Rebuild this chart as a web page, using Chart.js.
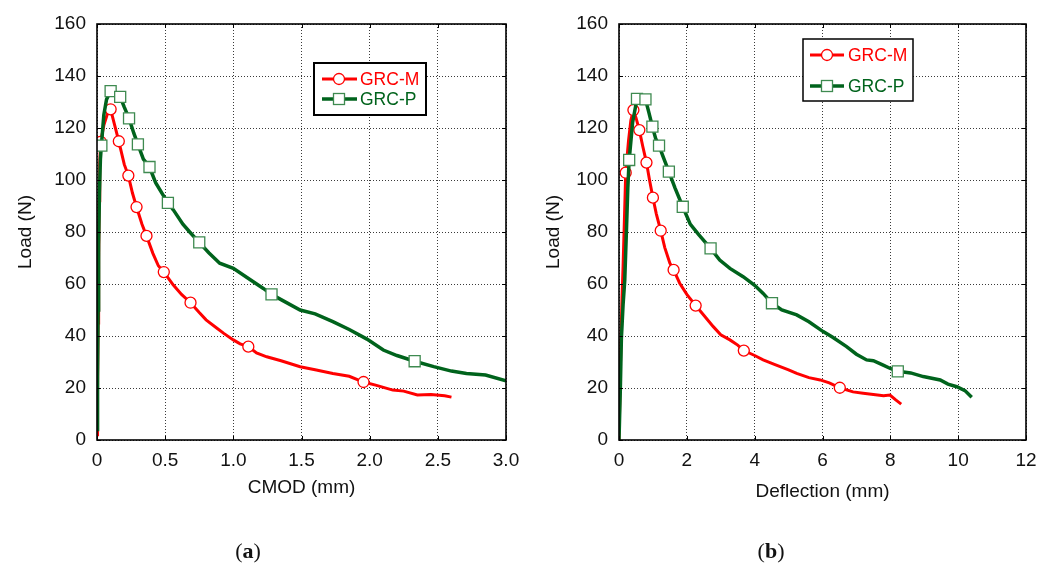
<!DOCTYPE html>
<html><head><meta charset="utf-8">
<script src="https://cdn.jsdelivr.net/npm/chart.js@4/dist/chart.umd.min.js"></script>
<style>
html,body{margin:0;padding:0;background:#fff;width:1062px;height:564px;overflow:hidden}
#wrapA{position:absolute;left:0;top:0;width:530px;height:564px}
#wrapB{position:absolute;left:530px;top:0;width:532px;height:564px}
.cap{position:absolute;top:538px;font-family:'Liberation Serif',serif;font-size:22px;color:#111;transform:translateX(-50%);white-space:nowrap}
</style></head><body>
<div id="wrapA"><canvas id="cA" width="530" height="564"></canvas></div>
<div id="wrapB"><canvas id="cB" width="532" height="564"></canvas></div>
<div class="cap" style="left:248px">(<b>a</b>)</div>
<div class="cap" style="left:771px">(<b>b</b>)</div>
<script>
// ---------- data ----------
const seriesNames = ['GRC-M', 'GRC-P'];
const yTickLabels = ['0','20','40','60','80','100','120','140','160'];
const xTickLabelsA = ['0','0.5','1.0','1.5','2.0','2.5','3.0'];
const xTickLabelsB = ['0','2','4','6','8','10','12'];

// (a) Load vs CMOD
const cmodM = [0,0.004,0.008,0.012,0.016,0.02,0.027,0.05,0.08,0.10,0.13,0.16,0.20,0.23,0.26,0.29,0.33,0.363,0.41,0.45,0.49,0.56,0.62,0.686,0.75,0.80,0.88,0.93,1.0,1.05,1.11,1.17,1.245,1.35,1.49,1.6,1.73,1.85,1.955,2.05,2.17,2.25,2.35,2.45,2.55,2.60];
const loadCmodM = [2,20,45,70,92,106,114.7,121,126,127.2,121,114.9,106,101.7,95,89.6,83,78.5,71.8,67,64.6,59.6,56,52.8,49,46.2,43,41,38.5,37,35.9,33.5,32,30.5,28.2,27,25.6,24.5,22.3,21,19.2,18.8,17.3,17.5,17,16.5];
const cmodMarkM = [0.027,0.10,0.16,0.23,0.29,0.363,0.49,0.686,1.11,1.955];
const loadCmodMarkM = [114.7,127.2,114.9,101.7,89.6,78.5,64.6,52.8,35.9,22.3];

const cmodP = [0,0.004,0.008,0.012,0.018,0.025,0.032,0.05,0.07,0.10,0.13,0.17,0.20,0.235,0.27,0.30,0.34,0.385,0.43,0.485,0.52,0.56,0.63,0.68,0.75,0.82,0.90,1.0,1.10,1.22,1.28,1.35,1.49,1.6,1.73,1.85,1.98,2.10,2.2,2.33,2.47,2.6,2.71,2.85,3.0];
const loadCmodP = [4,25,50,75,95,108,113.2,125,131,134.2,134,132,128,123.7,118,113.7,108,105,99,94.2,91.2,88.5,83,80,76,72,68,66,62.5,58.3,56,54,50,48.5,45.5,42.5,38.8,34.6,32.5,30.3,28.2,26.5,25.6,25,22.8];
const cmodMarkP = [0.032,0.10,0.17,0.235,0.30,0.385,0.52,0.75,1.28,2.33];
const loadCmodMarkP = [113.2,134.2,132,123.7,113.7,105,91.2,76,56,30.3];

// (b) Load vs Deflection
const deflM = [0,0.03,0.06,0.09,0.12,0.16,0.198,0.28,0.35,0.425,0.5,0.60,0.70,0.81,0.9,1.0,1.1,1.23,1.35,1.5,1.61,1.79,2.0,2.26,2.5,2.78,3.0,3.27,3.5,3.68,4.0,4.25,4.6,5.0,5.24,5.6,5.93,6.2,6.51,6.9,7.2,7.5,7.8,7.99,8.15,8.32];
const loadDeflM = [0,20,40,55,66.7,85,102.8,115,123,126.9,124,119.2,113,106.7,100,93.2,87,80.5,74,68,65.4,60.3,56,51.7,48,43.6,40.5,38.5,36.5,34.4,32.5,30.8,29,27,25.6,24,23.1,22,20.1,18.5,18,17.5,17,17.3,15.5,13.8];
const deflMarkM = [0.198,0.425,0.60,0.81,1.0,1.23,1.61,2.26,3.68,6.51];
const loadDeflMarkM = [102.8,126.9,119.2,106.7,93.2,80.5,65.4,51.7,34.4,20.1];

const deflP = [0,0.04,0.07,0.12,0.17,0.22,0.26,0.30,0.4,0.53,0.65,0.78,0.88,0.985,1.08,1.18,1.3,1.47,1.65,1.88,2.1,2.35,2.70,2.97,3.27,3.66,4.0,4.25,4.51,4.8,5.24,5.6,6.02,6.3,6.71,7.0,7.3,7.5,7.79,8.0,8.22,8.6,8.97,9.47,9.7,9.96,10.2,10.4];
const loadDeflP = [0,20,39,52,61.5,80.8,97,107.7,122,131.2,131.5,131.0,126,120.5,116,113.2,109,103.2,97,89.7,83,79,73.7,69.2,66,62.8,59.5,56.4,52.6,50,48.1,45.5,41.7,39.5,35.9,33,30.8,30.5,28.8,27.5,26.4,25.8,24.4,23.1,21.5,20.5,19,16.4];
const deflMarkP = [0.30,0.53,0.78,0.985,1.18,1.47,1.88,2.70,4.51,8.22];
const loadDeflMarkP = [107.7,131.2,131.0,120.5,113.2,103.2,89.7,73.7,52.6,26.4];

// ---------- styles ----------
const RED = '#ff0000';
const GREEN = '#00631c';
const GREEN_MK = '#3e8a50';
const FONT = "'Liberation Sans', Arial, sans-serif";
const TXT = '#111';
const AX_FONT = {family: FONT, size: 19};

const pts = (xs, ys) => xs.map((x, i) => ({x: x, y: ys[i]}));

function lineDs(label, xs, ys, color, width, order) {
  return {label, data: pts(xs, ys), showLine: true, borderColor: color, borderWidth: width,
    pointRadius: 0, pointHoverRadius: 0, fill: false, tension: 0, order};
}
function markDs(label, xs, ys, style, radius, stroke, order) {
  return {label, data: pts(xs, ys), showLine: false, pointStyle: style, pointRadius: radius,
    pointHoverRadius: radius, pointBackgroundColor: '#fff', pointBorderColor: stroke,
    pointBorderWidth: 1.3, order};
}

const framePlugin = {
  id: 'frame',
  afterDatasetsDraw(chart) {
    const {ctx, chartArea: a, scales} = chart;
    ctx.save();
    ctx.strokeStyle = '#000';
    ctx.lineWidth = 1;
    ctx.beginPath();
    scales.x.ticks.forEach(t => {
      const px = Math.round(scales.x.getPixelForValue(t.value)) + 0.5;
      ctx.moveTo(px, a.bottom); ctx.lineTo(px, a.bottom - 4);
      ctx.moveTo(px, a.top); ctx.lineTo(px, a.top + 4);
    });
    scales.y.ticks.forEach(t => {
      const py = Math.round(scales.y.getPixelForValue(t.value)) + 0.5;
      ctx.moveTo(a.left, py); ctx.lineTo(a.left + 4, py);
      ctx.moveTo(a.right, py); ctx.lineTo(a.right - 4, py);
    });
    ctx.stroke();
    ctx.lineWidth = 1.6;
    ctx.strokeRect(a.left, a.top, a.right - a.left, a.bottom - a.top);
    ctx.restore();
  }
};

const boxLegendPlugin = {
  id: 'boxLegend',
  afterDraw(chart, args, o) {
    const ctx = chart.ctx;
    ctx.save();
    ctx.fillStyle = '#fff';
    ctx.fillRect(o.box[0], o.box[1], o.box[2] - o.box[0], o.box[3] - o.box[1]);
    ctx.strokeStyle = '#000';
    ctx.lineWidth = o.boxWidth;
    ctx.strokeRect(o.box[0], o.box[1], o.box[2] - o.box[0], o.box[3] - o.box[1]);
    const entries = [
      {text: seriesNames[0], color: RED, lw: 3, mk: 'circle', mkColor: RED},
      {text: seriesNames[1], color: GREEN, lw: 3.5, mk: 'rect', mkColor: GREEN_MK}
    ];
    entries.forEach((e, i) => {
      const y = o.rows[i];
      ctx.strokeStyle = e.color; ctx.lineWidth = e.lw;
      ctx.beginPath(); ctx.moveTo(o.lineX[0], y); ctx.lineTo(o.lineX[1], y); ctx.stroke();
      ctx.fillStyle = '#fff'; ctx.strokeStyle = e.mkColor; ctx.lineWidth = 1.3;
      if (e.mk === 'circle') {
        ctx.beginPath(); ctx.arc(o.markX, y, 5.5, 0, Math.PI * 2); ctx.fill(); ctx.stroke();
      } else {
        ctx.fillRect(o.markX - 5.5, y - 5.5, 11, 11); ctx.strokeRect(o.markX - 5.5, y - 5.5, 11, 11);
      }
      ctx.fillStyle = e.color; ctx.font = '17.5px ' + FONT; ctx.textBaseline = 'middle'; ctx.textAlign = 'left';
      ctx.fillText(e.text, o.textX, y + 1);
    });
    ctx.restore();
  }
};

function makeChart(id, cfg) {
  const datasets = [
    lineDs(seriesNames[0], cfg.mx, cfg.my, RED, 3, 4),
    markDs(seriesNames[0], cfg.mmx, cfg.mmy, 'circle', 5.5, RED, 3),
    lineDs(seriesNames[1], cfg.px, cfg.py, GREEN, 3.5, 2),
    markDs(seriesNames[1], cfg.pmx, cfg.pmy, 'rect', 7.8, GREEN_MK, 1)
  ];
  return new Chart(document.getElementById(id), {
    type: 'scatter',
    data: {datasets},
    plugins: [framePlugin, boxLegendPlugin],
    options: {
      responsive: false, animation: false, events: [],
      layout: {padding: {left: 0, right: cfg.padRight, top: 24, bottom: 0}},
      plugins: {legend: {display: false}, tooltip: {enabled: false}, boxLegend: cfg.legend},
      scales: {
        x: {
          type: 'linear', min: 0, max: cfg.xMax,
          ticks: {stepSize: cfg.xStep, callback: (v, i) => cfg.xLabels[i], padding: 9,
            font: AX_FONT, color: TXT, maxRotation: 0, autoSkip: false},
          grid: {color: '#3a3a3a', lineWidth: 1, drawTicks: false},
          border: {display: false, dash: [1, 2]},
          title: {display: true, text: cfg.xTitle, font: AX_FONT, color: TXT,
            padding: {top: 0, bottom: cfg.xTitlePad}},
          afterFit: s => { s.height = 124; }
        },
        y: {
          type: 'linear', min: 0, max: 160,
          ticks: {stepSize: 20, callback: (v, i) => yTickLabels[i], padding: 11,
            font: AX_FONT, color: TXT},
          grid: {color: '#3a3a3a', lineWidth: 1, drawTicks: false},
          border: {display: false, dash: [1, 2]},
          title: {display: true, text: 'Load (N)', font: AX_FONT, color: TXT,
            padding: {top: cfg.yTitlePad, bottom: 0}},
          afterFit: s => { s.width = cfg.yWidth; }
        }
      }
    }
  });
}

makeChart('cA', {
  mx: cmodM, my: loadCmodM, mmx: cmodMarkM, mmy: loadCmodMarkM,
  px: cmodP, py: loadCmodP, pmx: cmodMarkP, pmy: loadCmodMarkP,
  xMax: 3, xStep: 0.5, xLabels: xTickLabelsA, xTitle: 'CMOD (mm)',
  padRight: 24, yWidth: 97, yTitlePad: 14, xTitlePad: 65,
  legend: {box: [314, 63, 426, 115], boxWidth: 2, rows: [79, 99], lineX: [322, 357], markX: 339, textX: 360}
});
makeChart('cB', {
  mx: deflM, my: loadDeflM, mmx: deflMarkM, mmy: loadDeflMarkM,
  px: deflP, py: loadDeflP, pmx: deflMarkP, pmy: loadDeflMarkP,
  xMax: 12, xStep: 2, xLabels: xTickLabelsB, xTitle: 'Deflection (mm)',
  padRight: 36, yWidth: 89, yTitlePad: 12, xTitlePad: 61,
  legend: {box: [273, 39, 383, 101], boxWidth: 1.5, rows: [55, 86], lineX: [280, 314], markX: 297, textX: 318}
});
</script>
</body></html>
